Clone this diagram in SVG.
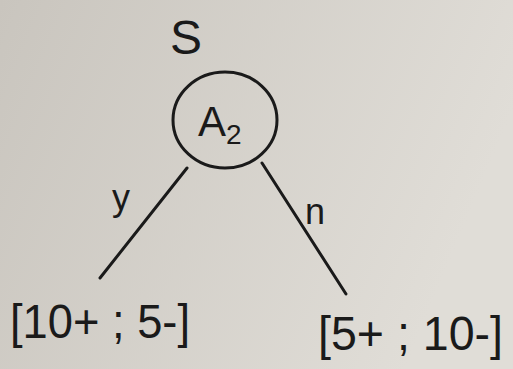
<svg xmlns="http://www.w3.org/2000/svg" width="513" height="369" viewBox="0 0 513 369">
<style>
.ink{fill:none;stroke:#1a1a1a;stroke-width:3;stroke-linecap:round}
.t{font-family:"Liberation Sans",Arial,sans-serif;fill:#1a1a1a}
</style>
<defs>
<linearGradient id="bg" x1="0" y1="0" x2="1" y2="0.3">
<stop offset="0" stop-color="#c9c5be"/>
<stop offset="1" stop-color="#e0ddd7"/>
</linearGradient>
</defs>
<rect width="513" height="369" fill="url(#bg)"/>
<g id="connectors">
<line class="ink" x1="187" y1="168" x2="100" y2="278"/>
<line class="ink" x1="262" y1="163" x2="346" y2="294"/>
<text class="t" x="112" y="210" font-size="36">y</text>
<text class="t" x="305" y="224" font-size="36">n</text>
</g>
<g id="root">
<text class="t" x="170" y="54" font-size="48">S</text>
<ellipse class="ink" cx="225" cy="120" rx="52" ry="48"/>
<text class="t" x="198" y="136" font-size="42">A<tspan font-size="28" dy="8">2</tspan></text>
</g>
<g id="leaf-left">
<text class="t" x="10" y="338" font-size="48" textLength="180" lengthAdjust="spacingAndGlyphs">[10+ ; 5-]</text>
</g>
<g id="leaf-right">
<text class="t" x="318" y="350" font-size="48" textLength="185" lengthAdjust="spacingAndGlyphs">[5+ ; 10-]</text>
</g>
</svg>
